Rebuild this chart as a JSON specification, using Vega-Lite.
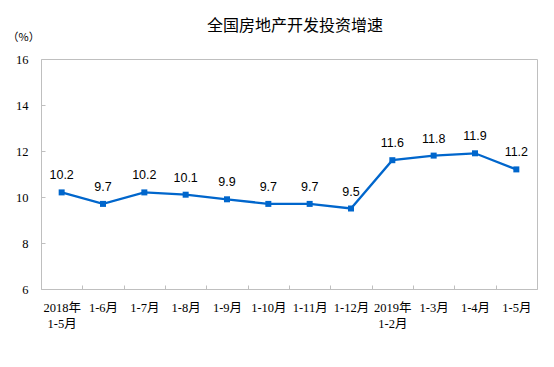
{
  "$schema": "https://vega.github.io/schema/vega-lite/v6.json",
  "width": 496,
  "height": 230,
  "autosize": {"type": "none"},
  "padding": {"left": 41, "top": 59, "right": 17, "bottom": 78},
  "background": "white",
  "title": {
    "text": "全国房地产开发投资增速",
    "font": "Noto Sans CJK SC",
    "fontSize": 16,
    "fontWeight": "normal",
    "color": "#000000",
    "anchor": "middle",
    "dx": 6,
    "dy": 15,
    "offset": 12
  },
  "config": {
    "view": {"stroke": "#BFBFBF", "strokeWidth": 1}
  },
  "data": {
    "values": [
      {"period": "2018年\n1-5月", "value": 10.2},
      {"period": "1-6月", "value": 9.7},
      {"period": "1-7月", "value": 10.2},
      {"period": "1-8月", "value": 10.1},
      {"period": "1-9月", "value": 9.9},
      {"period": "1-10月", "value": 9.7},
      {"period": "1-11月", "value": 9.7},
      {"period": "1-12月", "value": 9.5},
      {"period": "2019年\n1-2月", "value": 11.6},
      {"period": "1-3月", "value": 11.8},
      {"period": "1-4月", "value": 11.9},
      {"period": "1-5月", "value": 11.2}
    ]
  },
  "encoding": {
    "x": {
      "field": "period",
      "type": "ordinal",
      "sort": null,
      "scale": {"type": "band", "paddingInner": 0, "paddingOuter": 0},
      "axis": {
        "title": null,
        "domain": false,
        "ticks": true,
        "tickBand": "extent",
        "tickSize": -4,
        "tickColor": "#BFBFBF",
        "labelAngle": 0,
        "labelExpr": "split(datum.label, '\\n')",
        "labelFont": "Liberation Serif, Noto Sans CJK SC",
        "labelFontSize": 12.5,
        "labelColor": "#000000",
        "labelLineHeight": 16,
        "labelBaseline": "top",
        "labelPadding": 16
      }
    },
    "y": {
      "field": "value",
      "type": "quantitative",
      "scale": {"domain": [6, 16], "nice": false, "zero": false},
      "axis": {
        "values": [6, 8, 10, 12, 14, 16],
        "grid": false,
        "domain": false,
        "ticks": true,
        "tickSize": -4,
        "tickColor": "#BFBFBF",
        "labelFont": "Liberation Serif",
        "labelFontSize": 12.5,
        "labelColor": "#000000",
        "labelPadding": 17,
        "title": "（%）",
        "titleAngle": 0,
        "titleAlign": "left",
        "titleBaseline": "middle",
        "titleX": -34,
        "titleY": -22,
        "titleFont": "Noto Sans CJK SC",
        "titleFontSize": 11,
        "titleFontWeight": "normal",
        "titleColor": "#000000"
      }
    }
  },
  "layer": [
    {
      "mark": {"type": "line", "color": "#0066CC", "strokeWidth": 2.3}
    },
    {
      "mark": {"type": "square", "color": "#0066CC", "size": 36, "opacity": 1, "filled": true}
    },
    {
      "mark": {"type": "text", "font": "Liberation Sans", "fontSize": 12.5, "color": "#000000", "baseline": "middle", "dy": -17},
      "encoding": {"text": {"field": "value", "type": "quantitative", "format": ".1f"}}
    }
  ]
}
